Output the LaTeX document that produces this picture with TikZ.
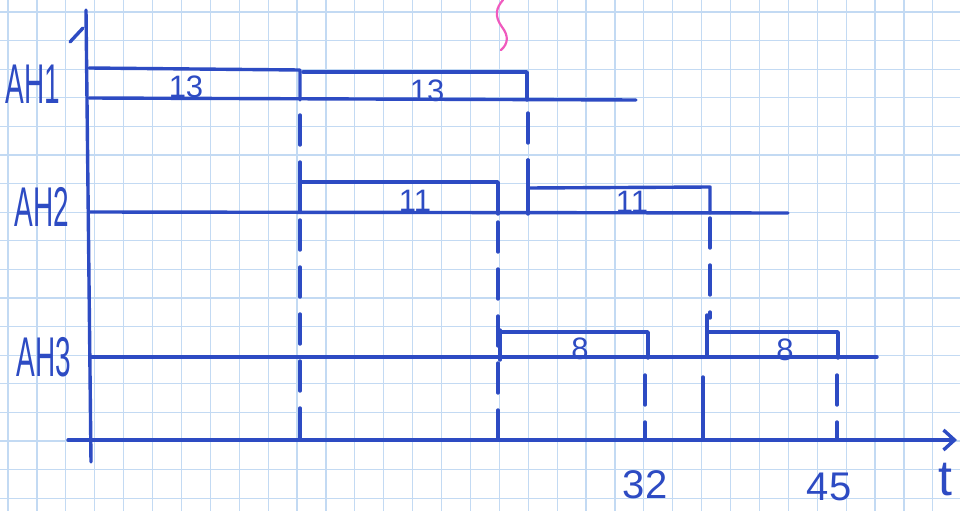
\documentclass[tikz,border=0pt]{standalone}
\usepackage{fontspec}
\setmainfont{Liberation Sans}
\usetikzlibrary{arrows.meta}
\definecolor{ink}{RGB}{45,75,195}
\definecolor{gridc}{RGB}{195,218,243}
\definecolor{pinkink}{RGB}{240,90,190}
\begin{document}
\begin{tikzpicture}[x=1pt,y=-1pt,
  gridline/.style={draw=gridc,line width=1.2pt},
  inkline/.style={draw=ink,line width=3.4pt,line cap=round,line join=round},
  dashv/.style={inkline,dash pattern=on 30pt off 17pt},
  rowlab/.style={text=ink,inner sep=0pt,font=\fontsize{56}{56}\selectfont},
  numlab/.style={text=ink,inner sep=0pt,font=\fontsize{31}{31}\selectfont},
  axlab/.style={text=ink,inner sep=0pt,font=\fontsize{40}{40}\selectfont}
]
\useasboundingbox (0,0) rectangle (960,511);
\fill[white] (0,0) rectangle (960,511);
% graph paper
\foreach \i in {0,...,33} \draw[gridline] ({8+28.9*\i},0) -- ({8+28.9*\i},511);
\foreach \j in {0,...,17} \draw[gridline] (0,{12+28.6*\j}) -- (960,{12+28.6*\j});

% axes
\coordinate (ytop) at (86,10);
\coordinate (ybot) at (91,462);
\coordinate (xl) at (68,440);
\coordinate (xr) at (957,440);
\coordinate (barbA) at (70,42);
\coordinate (barbB) at (83,28);
\draw[inkline] (ybot) -- (ytop);
\draw[inkline] (barbA) -- (barbB);
\draw[inkline,-{Straight Barb[length=11pt,width=20pt]}] (xl) -- (xr);

% row labels
\node[rowlab] (ah1) at (33,84) {\scalebox{0.5}[1]{AH1}};
\node[rowlab] (ah2) at (42,207) {\scalebox{0.5}[1]{AH2}};
\node[rowlab] (ah3) at (44,357) {\scalebox{0.5}[1]{AH3}};

% AH1 row
\draw[inkline] (89,98) -- (636,100);
\draw[inkline] (89,68) -- (300,70) -- (300,100);
\draw[inkline] (303,72) -- (527,72) -- (527,100);
\node[numlab] (n13a) at (186,87) {13};
\node[numlab] (n13b) at (427,91) {13};

% AH2 row
\draw[inkline] (89,212) -- (788,213);
\draw[inkline] (300,168) -- (300,212);
\draw[inkline] (300,182) -- (498,182) -- (498,214);
\draw[inkline] (528,160) -- (528,214);
\draw[inkline] (528,188) -- (710,187) -- (710,213);
\node[numlab] (n11a) at (415,201) {11};
\node[numlab] (n11b) at (632,202) {11};

% AH3 row
\draw[inkline] (91,357) -- (877,357);
\draw[inkline] (500,330) -- (500,360);
\draw[inkline] (500,332) -- (648,332) -- (648,358);
\draw[inkline] (707,315) -- (707,357);
\draw[inkline] (707,332) -- (838,332) -- (838,358);
\node[numlab] (n8a) at (580,349) {8};
\node[numlab] (n8b) at (785,350) {8};

% dashed time markers
\draw[dashv] (300,115) -- (300,168);
\draw[dashv] (300,220) -- (300,440);
\draw[dashv] (528,113) -- (528,160);
\draw[dashv] (498,222) -- (498,440);
\draw[dashv] (710,218) -- (710,318);
\draw[dashv] (645,375) -- (645,440);
\draw[inkline] (703,377) -- (703,440);
\draw[dashv] (837,375) -- (837,440);

% axis labels
\node[axlab] (l32) at (645,485) {32};
\node[axlab] (l45) at (829,487) {45};
\node[axlab,font=\fontsize{50}{50}\selectfont] (lt) at (945,480) {t};

% pink stray mark
\draw[pinkink,line width=2.2pt,line cap=round] (503,0) .. controls (496,8) and (494,16) .. (502,27) .. controls (509,36) and (508,44) .. (501,50);
\end{tikzpicture}
\end{document}
